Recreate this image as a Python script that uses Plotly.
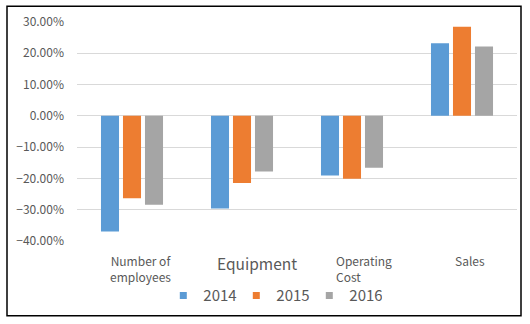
import plotly.graph_objects as go

categories = ["Number of employees", "Equipment", "Operating Cost", "Sales"]
cat_labels = ["Number of<br>employees", "Equipment", "Operating<br>Cost", "Sales"]
years = ["2014", "2015", "2016"]
v2014 = [-0.370, -0.296, -0.191, 0.232]
v2015 = [-0.263, -0.215, -0.201, 0.285]
v2016 = [-0.284, -0.178, -0.166, 0.222]
colors = ["#5B9BD5", "#ED7D31", "#A5A5A5"]
y_ticks = [-0.4, -0.3, -0.2, -0.1, 0.0, 0.1, 0.2, 0.3]

FONT = "Noto Sans CJK KR, Open Sans, sans-serif"

fig = go.Figure()
for name, vals, c in zip(years, [v2014, v2015, v2016], colors):
    fig.add_trace(go.Bar(x=categories, y=vals, name=name, legendgroup=name, showlegend=False,
                         marker=dict(color=c, line=dict(width=0))))
for name, c in zip(years, colors):
    fig.add_trace(go.Scatter(x=[None], y=[None], mode="markers", name=name, legendgroup=name,
                             marker=dict(symbol="square", size=7, color=c), showlegend=True))

fig.update_layout(
    width=530, height=324,
    margin=dict(l=77, r=13, t=22, b=81),
    paper_bgcolor="white", plot_bgcolor="white",
    barmode="group", bargap=0.4, bargroupgap=0.18,
    font=dict(family=FONT, color="#595959", size=12),
    showlegend=True,
    legend=dict(orientation="h", x=0.445, xanchor="center", y=-0.25, yanchor="middle",
                font=dict(size=15, color="#595959"), itemwidth=30,
                entrywidth=28, entrywidthmode="pixels",
                tracegroupgap=0),
)
fig.update_xaxes(showticklabels=False, showgrid=False, zeroline=False, showline=False, ticks="")
fig.update_yaxes(range=[-0.4, 0.3], tickvals=y_ticks, tickformat=".2%",
                 showgrid=True, gridcolor="#D9D9D9", gridwidth=1,
                 zeroline=True, zerolinecolor="#D9D9D9", zerolinewidth=1,
                 showline=False, ticks="", ticklabelstandoff=12,
                 tickfont=dict(size=12, color="#595959"))

label_sizes = [12, 15.5, 12, 12]
label_shift = [8, 15, 0, 8]
label_anchor = ["center", "center", "left", "center"]
label_align = ["center", "center", "left", "center"]
for cat, lab, sz, sh, an, al in zip(categories, cat_labels, label_sizes, label_shift, label_anchor, label_align):
    x_shift = sh if an == "center" else -18
    fig.add_annotation(x=cat, xref="x", y=0, yref="paper", yanchor="top", yshift=-9,
                       xanchor=an, align=al, xshift=x_shift, text=lab, showarrow=False,
                       font=dict(size=sz, color="#595959", family=FONT))

fig.add_shape(type="rect", xref="paper", yref="paper",
              x0=(7 - 77) / 440, x1=(521 - 77) / 440,
              y0=(243 - 318.5) / 221, y1=(243 - 6) / 221,
              line=dict(color="black", width=1.5), fillcolor="rgba(0,0,0,0)", layer="below")

fig.write_html("out.html")
